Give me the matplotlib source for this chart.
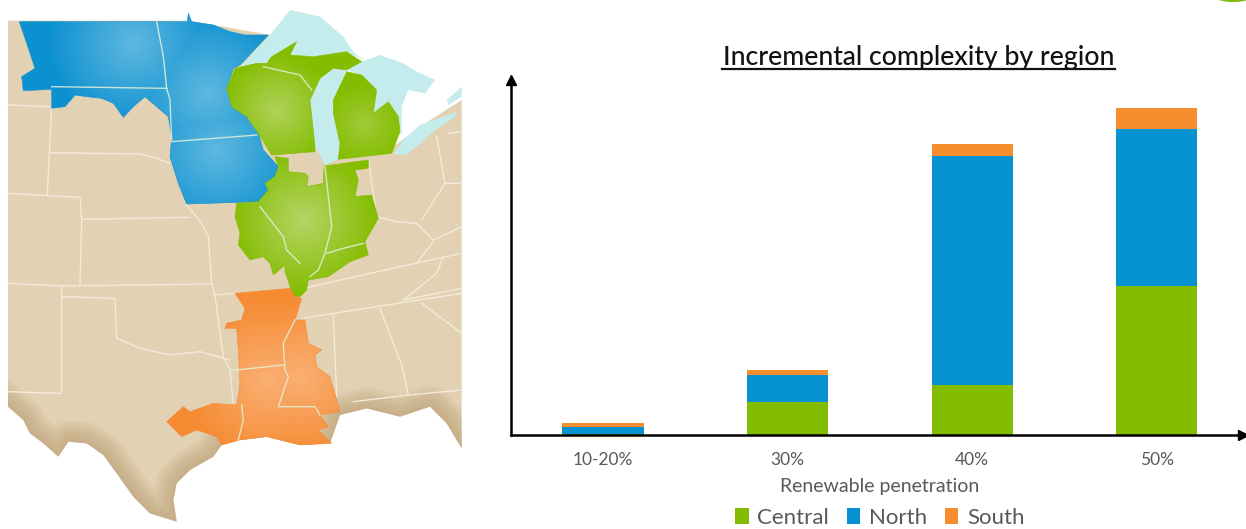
import numpy as np
import matplotlib
matplotlib.use("Agg")
import matplotlib.pyplot as plt
from matplotlib.patches import Polygon, Ellipse
from matplotlib.lines import Line2D
from matplotlib.colors import to_rgb

plt.rcParams['font.family'] = ['Lato', 'DejaVu Sans']

categories = ["10-20%", "30%", "40%", "50%"]
central = [1, 33, 50, 149]
north = [7, 27, 229, 157]
south = [4, 5, 12, 21]
series_names = ["Central", "North", "South"]
series_colors = ["#84BD00", "#0793D1", "#F68D2E"]
title = "Incremental complexity by region"
xlabel = "Renewable penetration"

# decorative map outlines, in 3x reference pixels
land = [(24,62),(570,62),(810,105),(950,300),(1100,300),(1180,440),(1260,380),(1385,300),(1385,1345),(1340,1270),(1290,1220),(1200,1250),(1100,1225),
        (1020,1245),(990,1330),(900,1335),(800,1310),(720,1320),(665,1335),(640,1370),(570,1410),(530,1450),
        (520,1500),(530,1565),(450,1540),(400,1490),(350,1420),(310,1365),(260,1330),(205,1325),(175,1370),
        (130,1330),(90,1300),(70,1260),(24,1220)]
blue = [(58,65),(562,65),(565,40),(575,65),(640,75),(690,95),(735,105),(805,105),(720,195),(700,205),(680,265),
        (695,320),(740,350),(775,400),(790,450),(835,500),(825,530),(795,550),(805,570),(780,605),(560,612),
        (535,550),(510,470),(515,410),(505,350),(470,320),(435,290),(400,320),(370,352),(340,310),(305,295),
        (260,290),(225,285),(195,320),(155,325),(155,268),(70,272),(65,230),(105,205),(80,130)]
green_wi = [(705,205),(770,190),(800,190),(815,170),(890,125),(870,165),(940,170),(1040,155),(1085,185),
            (1040,210),(1000,205),(960,235),(930,300),(945,440),(945,455),(815,465),(775,400),(740,350),
            (695,320),(680,265)]
green_mi = [(1040,215),(1085,225),(1130,270),(1120,340),(1165,305),(1195,350),(1200,395),(1175,460),(1015,478),
            (1020,430),(1000,340),(1000,300)]
green_mid = [(825,470),(865,475),(865,515),(915,520),(925,530),(920,560),(970,550),(972,498),(1105,480),
             (1105,505),(1065,510),(1075,540),(1065,590),(1115,585),(1135,655),(1095,725),(1105,765),(1050,785),
             (985,830),(925,840),(920,870),(900,890),(880,890),(855,815),(855,795),(820,825),(810,790),(790,770),
             (750,780),(715,735),(720,700),(705,650),(710,610),(775,605),(805,570),(795,550),(825,530),(835,500)]
orange = [(705,880),(870,865),(885,890),(905,895),(885,960),(915,960),(925,1030),(965,1050),(945,1065),(950,1100),
          (990,1130),(1020,1235),(960,1245),(985,1280),(955,1290),(995,1330),(900,1335),(800,1310),(720,1320),
          (665,1335),(650,1310),(590,1290),(545,1310),(500,1265),(550,1220),(570,1235),(640,1210),(710,1215),
          (720,1150),(715,1050),(710,985),(675,985),(680,970),(725,960),(735,925)]
lakes = [
    [(720,200),(810,105),(870,30),(960,50),(1030,110),(1060,155),(1090,180),(1040,155),(940,170),(870,165),(890,125),(815,170),(800,190),(770,190)],
    [(930,300),(960,235),(1000,205),(1040,210),(1000,300),(1000,340),(1020,430),(1015,478),(975,495),(945,440)],
    [(1040,210),(1085,185),(1140,165),(1210,190),(1250,215),(1305,240),(1275,280),(1225,270),(1205,320),(1205,400),(1180,400),(1195,350),(1165,305),(1120,340),(1130,270),(1085,225)],
    [(1180,462),(1210,420),(1260,375),(1370,335),(1365,350),(1300,395),(1250,440),(1215,465)],
    [(1340,300),(1385,260),(1385,290),(1345,315)],
]
state_lines = [
    [(24,315),(150,320)], [(172,70),(160,260),(155,325),(148,460),(142,585)],
    [(24,580),(240,592),(245,660),(240,855)], [(148,458),(420,462),(470,475),(510,490)],
    [(245,658),(570,652)], [(560,615),(605,670),(625,710),(635,850),(645,885),(660,1000),(670,1070),(690,1110),(700,1215)],
    [(24,850),(185,858),(635,852)], [(185,858),(185,1180),(24,1175)],
    [(188,890),(345,895),(350,1015),(420,1045),(510,1065),(600,1055),(690,1080)], [(640,885),(705,880)],
    [(690,1112),(850,1095)], [(470,65),(490,170),(500,265)], [(155,260),(500,265),(510,300),(515,420)],
    [(515,425),(770,405)], [(790,200),(900,225),(935,270)], [(780,620),(850,710),(860,750),(900,790)],
    [(975,500),(995,680),(975,760),(955,810),(930,830)], [(980,760),(1030,745),(1090,730)],
    [(885,960),(850,1030),(855,1110),(865,1130),(835,1220),(945,1220),(960,1245)],
    [(725,1215),(730,1260),(715,1320)], [(1105,480),(1130,650),(1190,665),(1250,670),(1300,720),(1385,680)],
    [(1310,410),(1335,550),(1385,550)], [(1335,550),(1265,660)], [(1300,725),(1250,790)],
    [(910,865),(1200,800),(1385,760)], [(1330,770),(1310,820),(1210,900),(1385,865)],
    [(905,955),(1385,880)], [(1265,910),(1385,1000)], [(1000,945),(1010,1190)],
    [(1140,925),(1205,1095),(1225,1185),(1060,1205)], [(1225,1185),(1385,1170)], [(1345,400),(1385,395)],
]

W, H = 1246, 529
fig = plt.figure(figsize=(W/100, H/100), dpi=100, facecolor="white")

# ---- map
m = fig.add_axes([0, 0, 1, 1], zorder=0)
m.set_xlim(0, W*3); m.set_ylim(H*3, 0); m.axis("off")

yy, xx = np.mgrid[0:H*3:3, 0:W*3:3]

def shaded(poly, edge, light, centers, radius):
    d = np.min([np.hypot(xx-cx, yy-cy) for cx, cy in centers], axis=0)
    t = np.clip(d/radius, 0, 1)[..., None]
    img = np.array(to_rgb(light))*(1-t) + np.array(to_rgb(edge))*t
    im = m.imshow(img, extent=(0, W*3, H*3, 0), aspect="auto", zorder=3, interpolation="bilinear")
    im.set_clip_path(Polygon(poly, closed=True, transform=m.transData))
    m.add_patch(Polygon(poly, closed=True, fill=False, ec=edge, lw=0.4, zorder=3))

land_p = Polygon(land, closed=True, fc="#E2D1B3", ec="none", zorder=1)
m.add_patch(land_p)
coast = land[8:36]
cx, cy = zip(*coast)
for lw in np.arange(4, 34, 3):
    l, = m.plot(cx, cy, color="#B5986A", lw=lw, alpha=.07, zorder=2, solid_joinstyle="round")
    l.set_clip_path(land_p)

for lk in lakes:
    m.add_patch(Polygon(lk, closed=True, fc="#C5ECEC", ec="none", zorder=2.5))

for ln in state_lines[:10] + state_lines[20:]:
    m.plot(*zip(*ln), color="#F3EADB", lw=1.0, zorder=2.4)

shaded(blue, "#0B90D0", "#5FB8E0", [(400,130),(620,280),(650,450)], 260)
shaded(green_wi, "#84BD00", "#AFD25A", [(830,330)], 170)
shaded(green_mi, "#84BD00", "#9FCA38", [(1090,370)], 120)
shaded(green_mid, "#84BD00", "#B5D566", [(910,660)], 220)
shaded(orange, "#F68B33", "#FAB074", [(800,1140),(900,1130)], 240)

for ln in state_lines[10:20]:
    m.plot(*zip(*ln), color="#E4F0D8", lw=1.0, alpha=.85, zorder=4)

# green sliver cut off by the top-right corner
m.add_patch(Ellipse((3700, -30), 160, 72, fc="#7DBB0A", ec="none", zorder=5))

# ---- chart
x0, x1, ytop, ybot = 511, 1243, 80, 435
ax = fig.add_axes([x0/W, 1-ybot/H, (x1-x0)/W, (ybot-ytop)/H], zorder=2)
ax.patch.set_alpha(0)
x = np.arange(len(categories))
c, n, s = np.array(central), np.array(north), np.array(south)
ax.bar(x, c, width=0.44, color=series_colors[0], label=series_names[0])
ax.bar(x, n, width=0.44, bottom=c, color=series_colors[1], label=series_names[1])
ax.bar(x, s, width=0.44, bottom=c+n, color=series_colors[2], label=series_names[2])
ax.set_xlim(-0.498, 3.467)
ax.set_ylim(0, 355)
ax.set_yticks([])
ax.set_xticks(x, categories)
ax.tick_params(axis="x", length=0, pad=12, labelsize=12.5, labelcolor="#595959")
for sp in ("top", "right"):
    ax.spines[sp].set_visible(False)
for sp in ("left", "bottom"):
    ax.spines[sp].set_linewidth(1.8)
    ax.spines[sp].set_color("black")
ax.plot(1, 0, marker=">", color="black", ms=7, transform=ax.transAxes, clip_on=False)
ax.plot(0, 1, marker="^", color="black", ms=7, transform=ax.transAxes, clip_on=False)

fig.text(880/W, 1-492/H, xlabel, ha="center", va="baseline", fontsize=14, color="#595959")

fig.text(918.5/W, 1-65/H, title, ha="center", va="baseline", fontsize=19.2, fontweight="medium", color="#111111")
fig.add_artist(Line2D([722/W, 1115/W], [1-68.5/H, 1-68.5/H], color="#111111", lw=1.6))

h, lab = ax.get_legend_handles_labels()
fig.legend(h, lab, ncol=3, loc="center", bbox_to_anchor=(880/W, 1-518/H), frameon=False,
           fontsize=16, labelcolor="#595959", handlelength=0.6, handleheight=0.7,
           handletextpad=0.4, columnspacing=0.8, borderpad=0, borderaxespad=0)

fig.savefig("out.png", dpi=100, facecolor="white")
